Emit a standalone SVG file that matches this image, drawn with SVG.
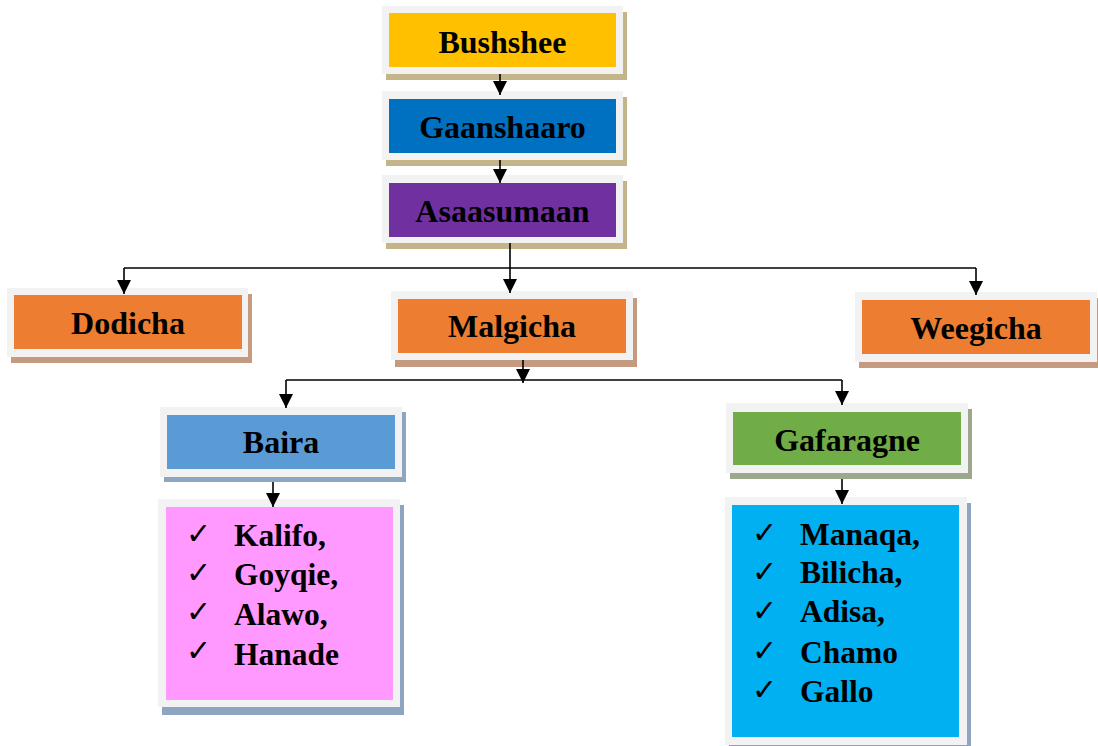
<svg xmlns="http://www.w3.org/2000/svg" width="1098" height="746" viewBox="0 0 1098 746">
<defs>
<marker id="ah" markerUnits="userSpaceOnUse" markerWidth="14" markerHeight="14" refX="14" refY="7" orient="auto" viewBox="0 0 14 14">
<path d="M0,0 L14,7 L0,14 Z" fill="#000"/>
</marker>
<style>
.frame{fill:#F2F2F2}
.lbl{font-family:"Liberation Serif","Times New Roman",serif;font-weight:bold;font-size:32px;fill:#000;text-anchor:middle}
.item{font-family:"Liberation Serif","Times New Roman",serif;font-weight:bold;font-size:31.5px;fill:#000}
.chk{font-family:"DejaVu Sans",sans-serif;font-size:30px;fill:#000}
.ln{fill:none;stroke:#000;stroke-width:1.6}
.arr{fill:none;stroke:#000;stroke-width:1.6;marker-end:url(#ah)}
</style>
</defs>
<rect width="1098" height="746" fill="#fff"/>

<g id="bushshee">
<rect x="386" y="12" width="241" height="68" fill="#C4B48A"/>
<rect class="frame" x="382" y="6" width="241" height="68"/>
<rect x="389" y="13" width="227" height="54" fill="#FFC000"/>
<text class="lbl" x="502.5" y="53">Bushshee</text>
</g>

<g id="gaanshaaro">
<rect x="386" y="97" width="241" height="69" fill="#C4B48A"/>
<rect class="frame" x="382" y="91" width="241" height="69"/>
<rect x="389" y="99" width="227" height="54" fill="#0070C0"/>
<text class="lbl" x="502.5" y="138">Gaanshaaro</text>
</g>

<g id="asaasumaan">
<rect x="386" y="181" width="241" height="68" fill="#C4B48A"/>
<rect class="frame" x="382" y="175" width="241" height="68"/>
<rect x="389" y="183" width="227" height="54" fill="#7030A0"/>
<text class="lbl" x="502.5" y="222">Asaasumaan</text>
</g>

<g id="dodicha">
<rect x="11" y="294" width="241" height="69" fill="#C49A80"/>
<rect class="frame" x="7" y="288" width="241" height="69"/>
<rect x="14" y="295" width="228" height="54" fill="#ED7D31"/>
<text class="lbl" x="128" y="334">Dodicha</text>
</g>

<g id="malgicha">
<rect x="395" y="298" width="242" height="69" fill="#C49A80"/>
<rect class="frame" x="391" y="291" width="242" height="69"/>
<rect x="398" y="299" width="228" height="54" fill="#ED7D31"/>
<text class="lbl" x="512" y="337">Malgicha</text>
</g>

<g id="weegicha">
<rect x="859" y="298" width="242" height="70" fill="#C49A80"/>
<rect class="frame" x="855" y="292" width="242" height="70"/>
<rect x="862" y="300" width="228" height="54" fill="#ED7D31"/>
<text class="lbl" x="976" y="339">Weegicha</text>
</g>

<g id="baira">
<rect x="164" y="412" width="242" height="70" fill="#8EA5BF"/>
<rect class="frame" x="160" y="407" width="242" height="70"/>
<rect x="167" y="415" width="228" height="54" fill="#5B9BD5"/>
<text class="lbl" x="281" y="453">Baira</text>
</g>

<g id="gafaragne">
<rect x="730" y="409" width="242" height="70" fill="#9BA88B"/>
<rect class="frame" x="726" y="403" width="242" height="70"/>
<rect x="733" y="412" width="228" height="53" fill="#70AD47"/>
<text class="lbl" x="847" y="451">Gafaragne</text>
</g>

<g id="baira-list">
<rect x="162" y="505" width="242" height="210" fill="#8EA5BF"/>
<rect class="frame" x="158" y="499" width="242" height="208"/>
<rect x="166" y="507" width="227" height="193" fill="#FF99FF"/>
<text class="chk" x="186" y="544">✓</text>
<text class="chk" x="186" y="583">✓</text>
<text class="chk" x="186" y="622">✓</text>
<text class="chk" x="186" y="661">✓</text>
<text class="item" x="234" y="546">Kalifo,</text>
<text class="item" x="234" y="585">Goyqie,</text>
<text class="item" x="234" y="625">Alawo,</text>
<text class="item" x="234" y="665">Hanade</text>
</g>

<g id="gafaragne-list">
<rect x="729" y="503" width="242" height="250" fill="#8EA5BF"/>
<rect class="frame" x="725" y="497" width="242" height="248"/>
<rect x="732" y="505" width="227" height="232" fill="#00B0F0"/>
<text class="chk" x="752" y="543">✓</text>
<text class="chk" x="752" y="582">✓</text>
<text class="chk" x="752" y="621">✓</text>
<text class="chk" x="752" y="661">✓</text>
<text class="chk" x="752" y="700">✓</text>
<text class="item" x="800" y="545">Manaqa,</text>
<text class="item" x="800" y="583">Bilicha,</text>
<text class="item" x="800" y="622">Adisa,</text>
<text class="item" x="800" y="663">Chamo</text>
<text class="item" x="800" y="702">Gallo</text>
</g>

<g id="connectors">
<path class="arr" d="M500 74 L500 95"/>
<path class="arr" d="M500 160 L500 183"/>
<path class="ln" d="M510 243 L510 268"/>
<path class="ln" d="M124 268 L976 268"/>
<path class="arr" d="M124 268 L124 294"/>
<path class="arr" d="M510 268 L510 293"/>
<path class="arr" d="M976 268 L976 295"/>
<path class="arr" d="M523 360 L523 383"/>
<path class="ln" d="M286 380 L842 380"/>
<path class="arr" d="M286 380 L286 408"/>
<path class="arr" d="M842 380 L842 405"/>
<path class="arr" d="M273 482 L273 507"/>
<path class="arr" d="M842 479 L842 504"/>
</g>
</svg>
